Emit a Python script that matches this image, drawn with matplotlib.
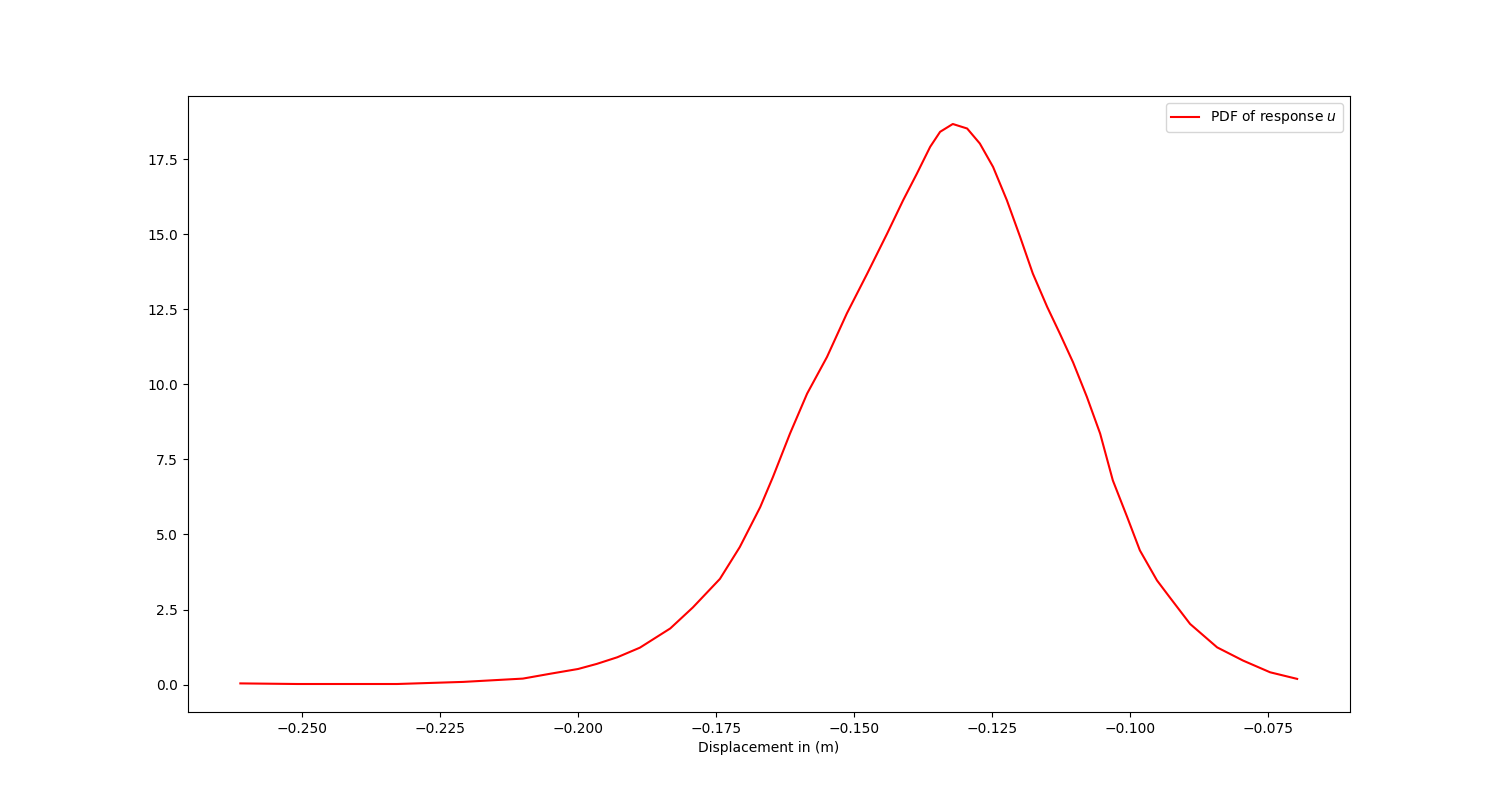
import matplotlib
matplotlib.use("Agg")
import matplotlib.pyplot as plt

# displacement values (m)
disp = [-0.2612, -0.2509, -0.2328, -0.2208, -0.2100, -0.2051, -0.2000, -0.1966,
        -0.1929, -0.1888, -0.1833, -0.1792, -0.1743, -0.1707, -0.1670, -0.1647,
        -0.1616, -0.1585, -0.1549, -0.1513, -0.1476, -0.1440, -0.1411, -0.1386,
        -0.1362, -0.1344, -0.1321, -0.1295, -0.1272, -0.1248, -0.1223, -0.1199,
        -0.1176, -0.1150, -0.1127, -0.1103, -0.1078, -0.1054, -0.1031, -0.1005,
        -0.0982, -0.0951, -0.0928, -0.0891, -0.0842, -0.0795, -0.0746, -0.0697]
# density values
pdf = [0.04, 0.02, 0.02, 0.09, 0.20, 0.36, 0.52, 0.69,
       0.91, 1.23, 1.87, 2.57, 3.52, 4.58, 5.91, 6.91,
       8.36, 9.69, 10.91, 12.36, 13.69, 15.02, 16.13, 17.02,
       17.91, 18.41, 18.67, 18.52, 18.02, 17.24, 16.13, 14.91,
       13.69, 12.58, 11.69, 10.73, 9.58, 8.36, 6.80, 5.58,
       4.47, 3.47, 2.91, 2.02, 1.24, 0.80, 0.41, 0.19]

fig = plt.figure(figsize=(15, 8), dpi=100)
plt.plot(disp, pdf, color='red', label='PDF of response $u$')
plt.xlabel('Displacement in (m)')
plt.legend(loc='upper right')
plt.savefig('out.png')
